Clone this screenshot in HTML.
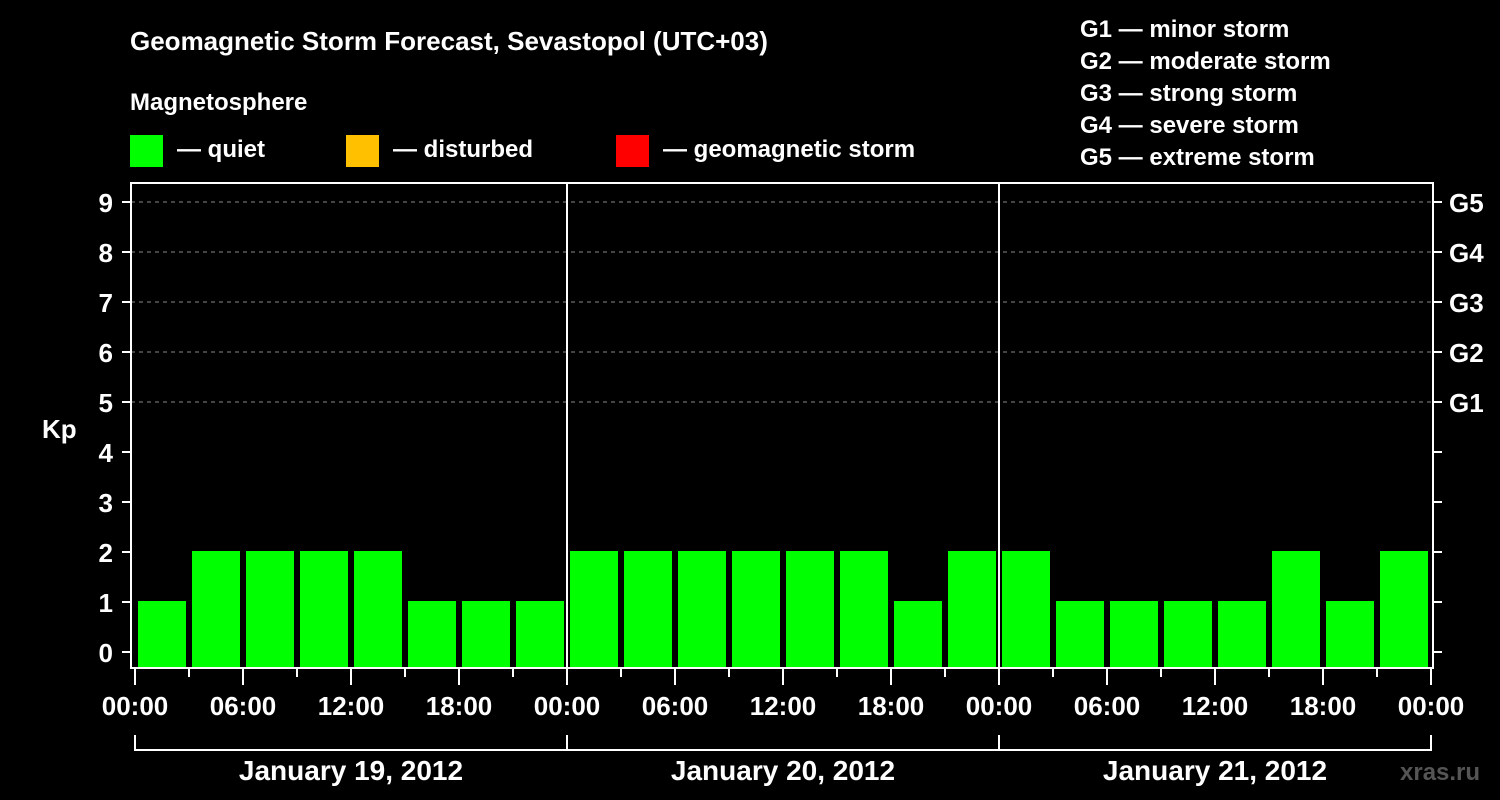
<!DOCTYPE html>
<html><head><meta charset="utf-8"><style>
html,body{margin:0;padding:0;background:#000;}
svg{display:block;font-family:"Liberation Sans",Arial,sans-serif;font-weight:bold;}
</style></head><body>
<svg id="chart" width="1500" height="800" viewBox="0 0 1500 800">
<rect x="0" y="0" width="1500" height="800" fill="#000"/>
<text x="130" y="50" fill="#fff" font-size="26">Geomagnetic Storm Forecast, Sevastopol (UTC+03)</text>
<text x="130" y="110" fill="#fff" font-size="24">Magnetosphere</text>
<g><rect x="130" y="135" width="33" height="32" fill="#00ff00"/><text x="177" y="157" fill="#fff" font-size="24">— quiet</text></g>
<g><rect x="346" y="135" width="33" height="32" fill="#ffc000"/><text x="393" y="157" fill="#fff" font-size="24">— disturbed</text></g>
<g><rect x="616" y="135" width="33" height="32" fill="#ff0000"/><text x="663" y="157" fill="#fff" font-size="24">— geomagnetic storm</text></g>
<g fill="#fff" font-size="24">
<text x="1080" y="37">G1 — minor storm</text>
<text x="1080" y="69">G2 — moderate storm</text>
<text x="1080" y="101">G3 — strong storm</text>
<text x="1080" y="133">G4 — severe storm</text>
<text x="1080" y="165">G5 — extreme storm</text>
</g>
<text x="42" y="438" fill="#fff" font-size="26">Kp</text>
<text x="1400" y="780" fill="#555" font-size="24">xras.ru</text>
<g id="grid"></g><g id="bars"></g><g id="axes"></g>
</svg>
<script>
const days = ["January 19, 2012","January 20, 2012","January 21, 2012"];
const kpValues = [1,2,2,2,2,1,1,1, 2,2,2,2,2,2,1,2, 2,1,1,1,1,2,1,2];
const yTicks = [0,1,2,3,4,5,6,7,8,9];
const gLabels = ["G1","G2","G3","G4","G5"];
const gLevels = [5,6,7,8,9];
const timeLabels = ["00:00","06:00","12:00","18:00"];

const NS="http://www.w3.org/2000/svg";
const X0=135, DAYW=432, L=131, R=1433, T=183, B=668;
const xs = h => X0 + h/72*DAYW*3/3; // h in hours
const xH = h => X0 + h*(DAYW/24);
const yv = v => 652 - v*50;
function mk(tag,attrs,parent){const e=document.createElementNS(NS,tag);for(const k in attrs)e.setAttribute(k,attrs[k]);parent.appendChild(e);return e;}
const grid=document.getElementById('grid'), bars=document.getElementById('bars'), axes=document.getElementById('axes');

gLevels.forEach((lv,i)=>{
  const l=mk('line',{x1:L,x2:R,y1:yv(lv),y2:yv(lv),stroke:'#888','stroke-dasharray':'4,4','stroke-width':1},grid);
  
  
  const t=mk('text',{x:1449,y:yv(lv)+10,fill:'#fff','font-size':26},axes);
  t.textContent=gLabels[i];
  
  
});
kpValues.forEach((v,i)=>{
  const h=i*3;
  const r=mk('rect',{x:xH(h)+3,y:yv(v)-1,width:DAYW/8-6,height:B-yv(v)+1,fill:v>=5?'#ff0000':(v>=4?'#ffc000':'#00ff00')},bars);
  
  
});
// frame
const fr=mk('rect',{x:L,y:T,width:R-L,height:B-T,fill:'none',stroke:'#fff','stroke-width':2},axes);


for(let d=1;d<days.length;d++){
  const s=mk('line',{x1:xH(d*24),x2:xH(d*24),y1:T,y2:B,stroke:'#fff','stroke-width':2},axes);
  
  
}
yTicks.forEach(v=>{
  mk('line',{x1:122,x2:L,y1:yv(v),y2:yv(v),stroke:'#fff','stroke-width':2},axes);
  mk('line',{x1:R,x2:R+9,y1:yv(v),y2:yv(v),stroke:'#fff','stroke-width':2},axes);
  const t=mk('text',{x:113,y:yv(v)+10,fill:'#fff','font-size':26,'text-anchor':'end'},axes);
  t.textContent=v;
  
  
});
for(let h=0;h<=72;h+=3){
  const major=h%6===0;
  mk('line',{x1:xH(h),x2:xH(h),y1:B,y2:major?685:677,stroke:'#fff','stroke-width':2},axes);
  if(major){
    const t=mk('text',{x:xH(h),y:715,fill:'#fff','font-size':26,'text-anchor':'middle'},axes);
    t.textContent=timeLabels[(h/6)%4];
    
    
  }
}
days.forEach((d,i)=>{
  const a=xH(i*24), b=xH((i+1)*24);
  mk('path',{d:`M${a} 735V750H${b}V735`,stroke:'#fff','stroke-width':2,fill:'none'},axes);
  const t=mk('text',{x:(a+b)/2,y:780,fill:'#fff','font-size':28,'text-anchor':'middle'},axes);
  t.textContent=d;
  
  
});
</script>
</body></html>
